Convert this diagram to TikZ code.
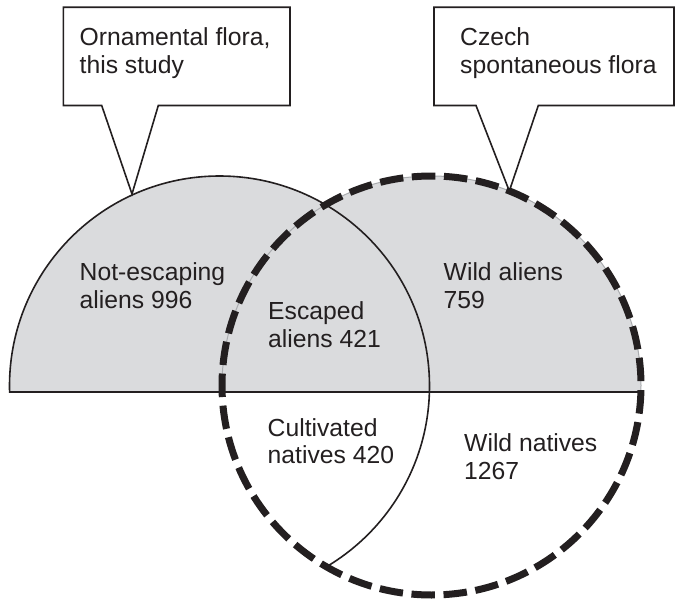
\documentclass[tikz,border=0pt]{standalone}
\usepackage{fontspec}
\setmainfont{Liberation Sans}
\definecolor{fillgray}{RGB}{218,219,221}
\definecolor{edgegray}{RGB}{170,172,175}
\definecolor{ink}{RGB}{35,31,32}
\begin{document}
\begin{tikzpicture}[x=1pt,y=-1pt,
  lbl/.style={anchor=base west, inner sep=0pt, align=left, font=\fontsize{24.7}{27.5}\selectfont, text=ink},
  outline/.style={draw=ink, line width=1.6pt},
  callout/.style={draw=ink, fill=white, line width=1.6pt, line join=miter},
  dashring/.style={draw=ink, line width=7pt, dash pattern=on 23.5pt off 8.6pt, dash phase=27.8pt}]
\useasboundingbox (0,0) rectangle (675,602);
\coordinate (cO) at (219.5,386);
\coordinate (cC) at (431.5,385.5);
\coordinate (lineL) at (9.6,392);
\coordinate (lineR) at (640.4,392);
\coordinate (tipO) at (132,194);
\coordinate (tipC) at (509.3,191);
% grey fill above the line
\begin{scope}
  \clip (0,0) rectangle (675,392);
  \fill[fillgray] (cO) circle[radius=210pt];
  \fill[fillgray] (cC) circle[radius=209.5pt];
  \draw[edgegray, line width=1pt] (cC) circle[radius=209.5pt];
  \draw[outline] (cO) circle[radius=210pt];
\end{scope}
% lower part of ornamental circle, inside Czech circle
\begin{scope}
  \clip (cC) circle[radius=209.5pt];
  \clip (0,392) rectangle (675,602);
  \draw[outline] (cO) circle[radius=210pt];
\end{scope}
\draw[outline] (lineL) -- (lineR);
\draw[dashring] (cC) circle[radius=209.5pt];
% callouts
\draw[callout] (63.3,7.3) -- (290,7.3) -- (290,105.5) -- (158.3,105.5) -- (tipO) -- (101.7,105.5) -- (63.3,105.5) -- cycle;
\draw[callout] (434,7.3) -- (674,7.3) -- (674,105.5) -- (538.3,105.5) -- (tipC) -- (476,105.5) -- (434,105.5) -- cycle;
% labels (anchor is the baseline of the last line)
\node[lbl] (tOrn) at (79.5,73.1) {Ornamental flora,\\this study};
\node[lbl] (tCz) at (460,73.1) {Czech\\spontaneous flora};
\node[lbl] (tNot) at (79.5,308.1) {Not-escaping\\aliens 996};
\node[lbl] (tWA) at (443.5,308.1) {Wild aliens\\759};
\node[lbl] (tEsc) at (268,347.3) {Escaped\\aliens 421};
\node[lbl] (tCult) at (267.5,463.7) {Cultivated\\natives 420};
\node[lbl] (tWN) at (464,479.1) {Wild natives\\1267};
\end{tikzpicture}
\end{document}
